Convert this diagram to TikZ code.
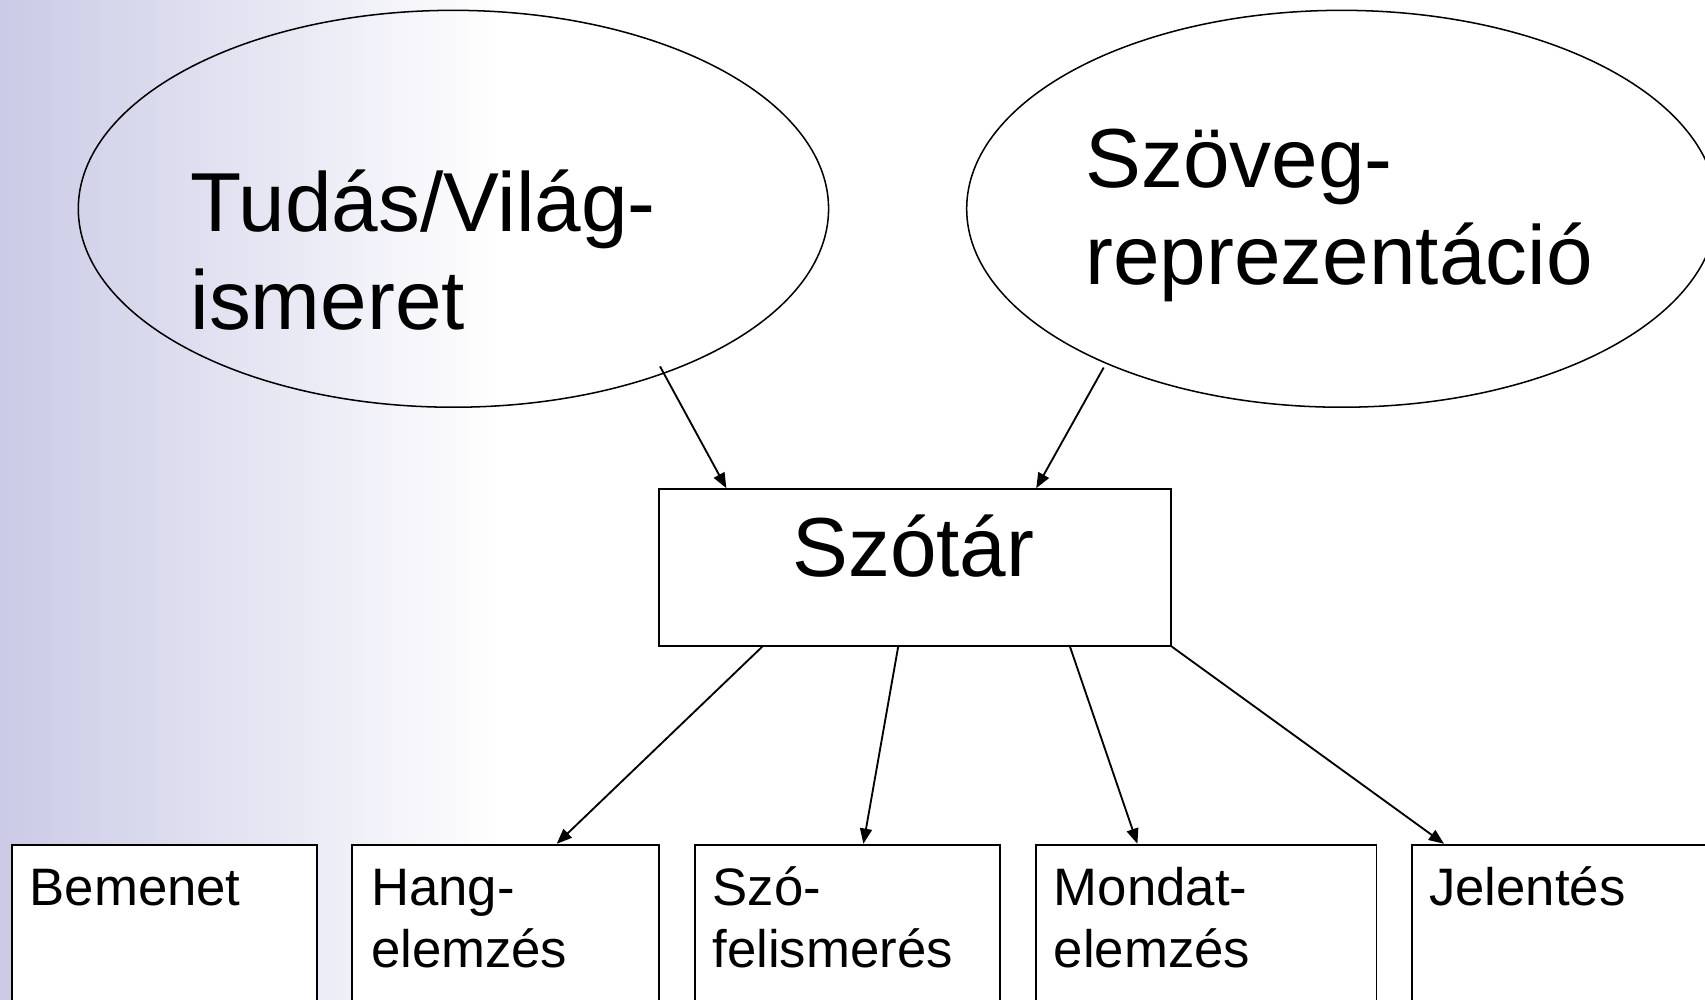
\documentclass[tikz,border=0pt]{standalone}
\usepackage{fontspec}
\setmainfont{Liberation Sans}
\usetikzlibrary{arrows.meta,shapes.geometric}
\definecolor{lav}{RGB}{202,202,230}
\tikzset{
  ell/.style={draw=black,line width=1.4pt,ellipse,inner sep=0pt,minimum width=690pt,minimum height=365pt},
  bigtxt/.style={inner sep=0pt,align=left,font=\fontsize{77}{90}\selectfont,anchor=base west},
  smalltxt/.style={inner sep=0pt,align=left,font=\fontsize{48.5}{57}\selectfont,anchor=base west},
  mainbox/.style={draw=black,fill=white,line width=1.7pt,rectangle,inner sep=0pt,minimum width=471pt,minimum height=144pt,anchor=north west},
  stagebox/.style={draw=black,fill=white,line width=1.7pt,rectangle,inner sep=0pt,minimum height=160pt,anchor=north west},
  arr/.style={line width=1.7pt,-{Triangle[length=14pt,width=11pt]}}
}
\begin{document}
\begin{tikzpicture}[x=1pt,y=-1pt]
\useasboundingbox (0,0) rectangle (1568,919);
\clip (0,0) rectangle (1568,919);
\shade[left color=lav,right color=white] (0,0) rectangle (460,919);
% ellipses
\node[ell] (e1) at (417,192) {};
\node[ell] (e2) at (1234,192) {};
\node[bigtxt] (t1) at (175,303) {Tudás/Világ-\\ismeret};
\node[bigtxt] (t2) at (998,262) {Szöveg-\\reprezentáció};
% main box
\node[mainbox] (sz) at (605,449) {};
\node[inner sep=0pt,font=\fontsize{77}{90}\selectfont,anchor=base] (szt) at (840,530) {Szótár};
% stage boxes
\node[stagebox,minimum width=281pt] (b1) at (10,776) {};
\node[stagebox,minimum width=282pt] (b2) at (323,776) {};
\node[stagebox,minimum width=281pt] (b3) at (638,776) {};
\node[stagebox,minimum width=313pt] (b4) at (952,776) {};
\node[stagebox,minimum width=300pt] (b5) at (1298,776) {};
\node[smalltxt] (l1) at (27,833) {Bemenet};
\node[smalltxt] (l2) at (341,890) {Hang-\\elemzés};
\node[smalltxt] (l3) at (655,890) {Szó-\\felismerés};
\node[smalltxt] (l4) at (969,890) {Mondat-\\elemzés};
\node[smalltxt] (l5) at (1314,833) {Jelentés};
% arrows
\coordinate (s1) at (607,337);
\coordinate (s2) at (1015,338);
\draw[arr] (s1) -- ([xshift=63pt]sz.north west);
\draw[arr] (s2) -- ([xshift=348pt]sz.north west);
\draw[arr] ([xshift=96pt]sz.south west) -- ([xshift=189pt]b2.north west);
\draw[arr] ([xshift=221pt]sz.south west) -- ([xshift=156pt]b3.north west);
\draw[arr] ([xshift=379pt]sz.south west) -- ([xshift=94pt]b4.north west);
\draw[arr] (sz.south east) -- ([xshift=30pt]b5.north west);
\end{tikzpicture}
\end{document}
